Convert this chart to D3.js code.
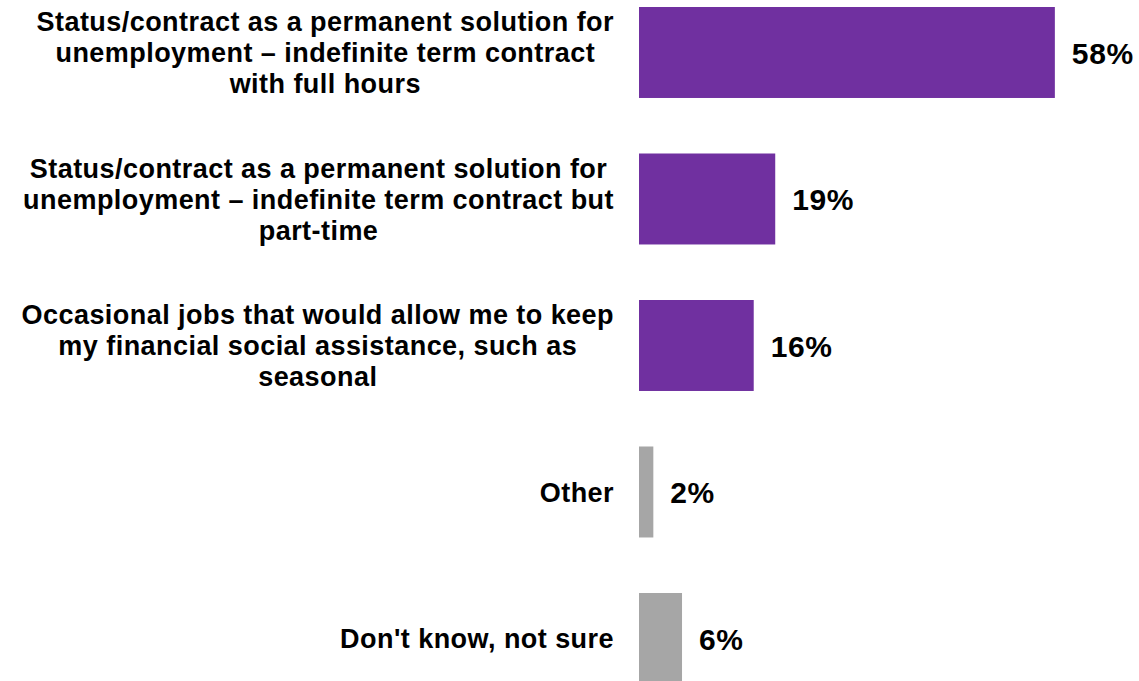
<!DOCTYPE html>
<html>
<head>
<meta charset="utf-8">
<script src="https://cdn.jsdelivr.net/npm/d3@7/dist/d3.min.js"></script>
<style>
  html, body { margin: 0; padding: 0; background: #fff; }
  svg { display: block; }
  text { font-family: Arial, "Liberation Sans", sans-serif; font-weight: bold; fill: #000; }
</style>
</head>
<body>
<svg id="chart" width="1139" height="681"></svg>
<script>
// Survey answers, each category split into its displayed lines
const categories = [
  ["Status/contract as a permanent solution for", "unemployment \u2013 indefinite term contract", "with full hours"],
  ["Status/contract as a permanent solution for", "unemployment \u2013 indefinite term contract but", "part-time"],
  ["Occasional jobs that would allow me to keep", "my financial social assistance, such as", "seasonal"],
  ["Other"],
  ["Don't know, not sure"]
];
const values = [58, 19, 16, 2, 6];
const highlighted = [true, true, true, false, false];

const svg = d3.select("#chart");

const barLeft = 639;
const labelRight = 614;
const lineHeight = 31;
const step = 146.5;
const pad = 0.379;

const x = d3.scaleLinear().domain([0, 100]).range([barLeft, barLeft + 717]);
const y = d3.scaleBand()
  .domain(d3.range(categories.length))
  .range([7 - pad * step / 2, 7 - pad * step / 2 + step * categories.length])
  .paddingInner(pad)
  .paddingOuter(pad / 2);

const rows = svg.selectAll("g.row")
  .data(values.map((v, i) => ({ v, i, lines: categories[i], hi: highlighted[i] })))
  .join("g")
  .attr("class", "row");

rows.append("rect")
  .attr("x", x(0))
  .attr("y", d => y(d.i))
  .attr("width", d => x(d.v) - x(0))
  .attr("height", y.bandwidth())
  .attr("fill", d => d.hi ? "#7030A0" : "#A6A6A6");

rows.append("text")
  .attr("x", d => x(d.v) + 17)
  .attr("y", d => y(d.i) + y.bandwidth() / 2)
  .attr("dy", "0.37em")
  .style("font-size", "30px")
  .style("letter-spacing", "0.6px")
  .text(d => d.v + "%");

// Category labels: lines centred within a block whose right edge is aligned
rows.each(function (d) {
  const g = d3.select(this);
  const t = g.append("text")
    .attr("text-anchor", "middle")
    .style("font-size", "27px")
    .style("letter-spacing", "0.45px");
  const spans = t.selectAll("tspan").data(d.lines).join("tspan").text(s => s);
  let maxW = 0;
  spans.each(function () { maxW = Math.max(maxW, this.getComputedTextLength()); });
  const cx = labelRight - maxW / 2;
  const cy = y(d.i) + y.bandwidth() / 2;
  const n = d.lines.length;
  spans.attr("x", cx)
    .attr("y", (s, k) => cy + (k - (n - 1) / 2) * lineHeight)
    .attr("dy", "0.36em");
});
</script>
</body>
</html>
